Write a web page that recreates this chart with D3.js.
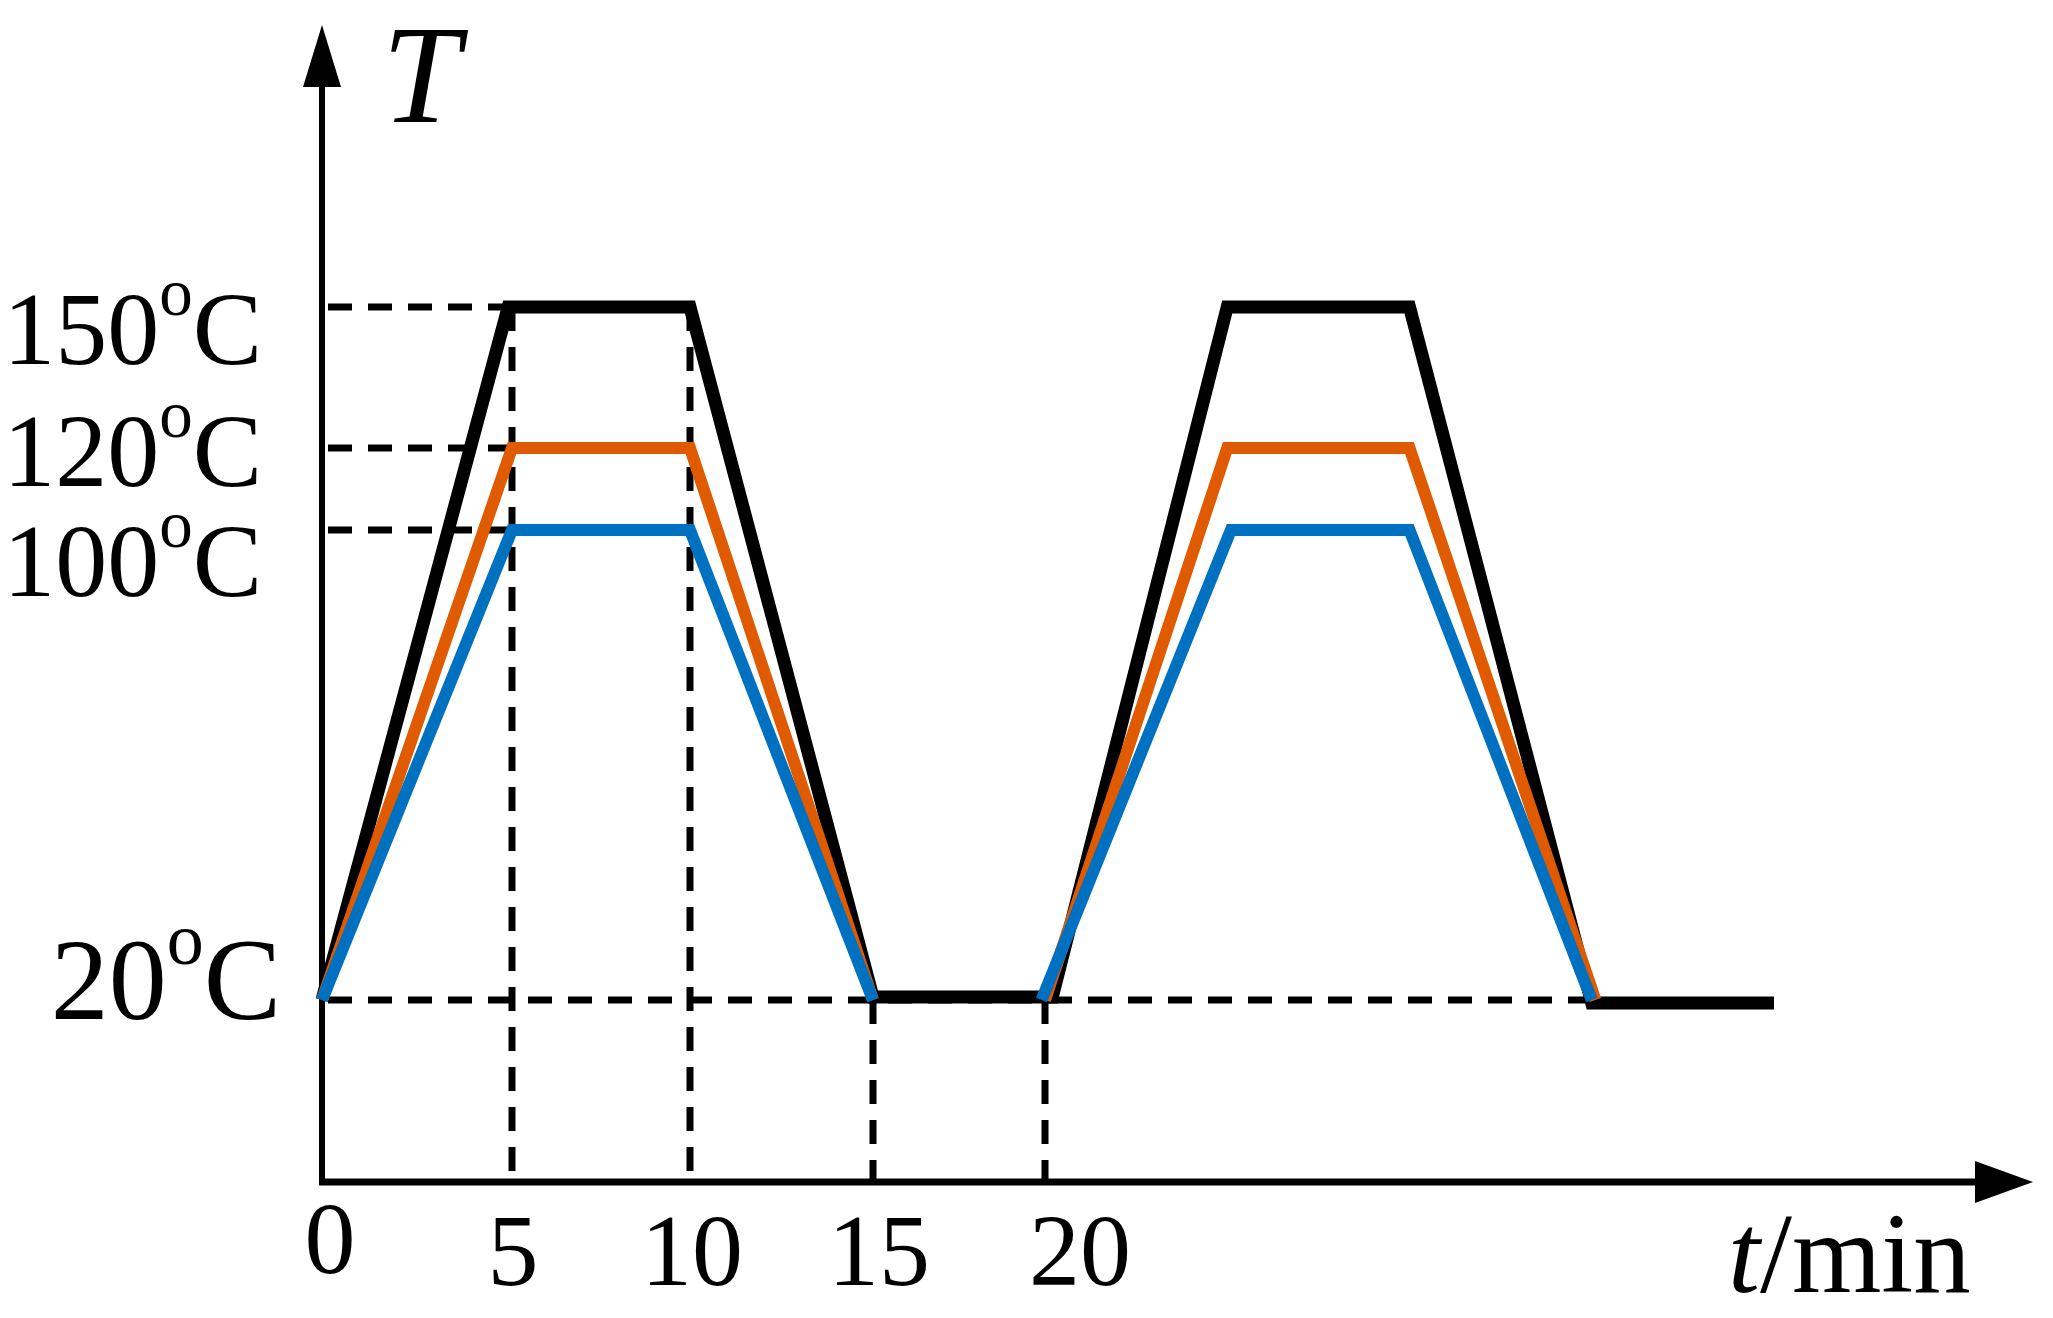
<!DOCTYPE html>
<html>
<head>
<meta charset="utf-8">
<script src="https://cdn.jsdelivr.net/npm/d3@7"></script>
<style>
  html, body { margin: 0; padding: 0; background: #fff; }
  svg { display: block; }
</style>
</head>
<body>
<svg id="chart" width="2053" height="1318"></svg>
<script>
// ---------------- DATA ----------------
const xTicks = [0, 5, 10, 15, 20];
const xTickLabels = ["0", "5", "10", "15", "20"];
const yLevels = [150, 120, 100, 20];
const yLevelLabels = ["150", "120", "100", "20"];
const xTitleItalic = "t";
const xTitleRest = "/min";
const yTitle = "T";

// series: time (min) and temperature (°C); null = gap
const blackTime  = [0, 4.9, 10, 15, 20.2, 25, 30, 35, 40];
const blackTemp  = [20, 150, 150, 20.5, 20.5, 150, 150, 19.5, 19.5];
const orangeTime = [0, 5, 10, 15, null, 20, 25, 30, 35.1];
const orangeTemp = [20, 120, 120, 20, null, 20, 120, 120, 20];
const blueTime   = [0, 5, 10, 15, null, 19.9, 25.1, 30, 35];
const blueTemp   = [20, 100, 100, 20, null, 20, 100, 100, 20];

// reference guide lines
const vGuideTimes = [5, 10, 15, 20];
const vGuideTops  = [150, 150, 20, 20];
const hGuideLevels = [150, 120, 100, 20];
const hGuideEnds   = [5, 5, 5, 35];

// ---------------- LAYOUT / STYLE ----------------
const W = 2053, H = 1318;
const axisX = 322, axisY = 1182;
const FONT = "'Liberation Serif', 'Times New Roman', serif";

// schematic (piecewise) scales as in the original drawing
const x = d3.scaleLinear().domain([0, 5, 10, 15, 20, 40]).range([322, 512, 690, 873, 1045, 1774]);
const y = d3.scaleLinear().domain([20, 100, 120, 150]).range([1000, 530, 448, 307]);

const svg = d3.select("#chart");
svg.append("rect").attr("width", W).attr("height", H).attr("fill", "#fff");

const dash = "24,16";
const gGuides = svg.append("g").attr("stroke", "#000").attr("stroke-width", 7).attr("stroke-dasharray", dash).attr("fill", "none");

// horizontal dashed guides
gGuides.selectAll("line.h").data(hGuideLevels).join("line")
  .attr("class", "h")
  .attr("x1", axisX + 6)
  .attr("x2", (d, i) => x(hGuideEnds[i]))
  .attr("y1", d => y(d)).attr("y2", d => y(d));

// vertical dashed guides
gGuides.selectAll("line.v").data(vGuideTimes).join("line")
  .attr("class", "v")
  .attr("x1", d => x(d)).attr("x2", d => x(d))
  .attr("y1", (d, i) => y(vGuideTops[i]))
  .attr("y2", axisY);

// axes with arrows
const gAxes = svg.append("g");
gAxes.append("line").attr("x1", axisX).attr("x2", axisX).attr("y1", axisY + 3).attr("y2", 80)
  .attr("stroke", "#000").attr("stroke-width", 6);
gAxes.append("path").attr("d", `M${axisX},25 L${axisX - 19},87 L${axisX + 19},87 Z`).attr("fill", "#000");
gAxes.append("line").attr("x1", axisX - 3).attr("x2", 1980).attr("y1", axisY).attr("y2", axisY)
  .attr("stroke", "#000").attr("stroke-width", 7);
gAxes.append("path").attr("d", `M2033,${axisY} L1975,${axisY - 21} L1975,${axisY + 21} Z`).attr("fill", "#000");

// series lines
const line = d3.line()
  .defined(d => d[0] != null && d[1] != null)
  .x(d => x(d[0])).y(d => y(d[1]));

const series = [
  { t: blackTime,  v: blackTemp,  color: "#000000", w: 13 },
  { t: orangeTime, v: orangeTemp, color: "#E05A00", w: 12 },
  { t: blueTime,   v: blueTemp,   color: "#0070C0", w: 12 }
];
svg.append("g").selectAll("path").data(series).join("path")
  .attr("d", s => line(s.t.map((t, i) => [t, s.v[i]])))
  .attr("fill", "none")
  .attr("stroke", s => s.color)
  .attr("stroke-width", s => s.w)
  .attr("stroke-linejoin", "miter")
  .attr("stroke-miterlimit", 10)
  .attr("stroke-linecap", "butt");

// y level labels
const yLabStyle = [
  { dy: 57, fs: 104, sup: 67, raise: 49, xEnd: 262 },
  { dy: 38, fs: 104, sup: 67, raise: 49, xEnd: 262 },
  { dy: 66, fs: 104, sup: 67, raise: 49, xEnd: 262 },
  { dy: 19, fs: 116, sup: 74, raise: 55, xEnd: 281 }
];
const yLab = svg.append("g").attr("font-family", FONT).attr("fill", "#000")
  .selectAll("text").data(yLevels).join("text")
  .attr("text-anchor", "end")
  .attr("x", (d, i) => yLabStyle[i].xEnd)
  .attr("y", (d, i) => y(d) + yLabStyle[i].dy)
  .attr("font-size", (d, i) => yLabStyle[i].fs);
yLab.append("tspan").text((d, i) => yLevelLabels[i]);
yLab.append("tspan").attr("font-size", (d, i) => yLabStyle[i].sup).attr("dy", (d, i) => -yLabStyle[i].raise).text("o");
yLab.append("tspan").attr("dy", (d, i) => yLabStyle[i].raise).text("C");

// x tick labels
const xLabStyle = [
  { dx: 8, baseline: 1273 },
  { dx: 1, baseline: 1285 },
  { dx: 2, baseline: 1285 },
  { dx: 6, baseline: 1285 },
  { dx: 35, baseline: 1285 }
];
svg.append("g").attr("font-family", FONT).attr("font-size", 102).attr("fill", "#000")
  .selectAll("text").data(xTicks).join("text")
  .attr("text-anchor", "middle")
  .attr("x", (d, i) => x(d) + xLabStyle[i].dx)
  .attr("y", (d, i) => xLabStyle[i].baseline)
  .text((d, i) => xTickLabels[i]);

// axis titles
svg.append("text").attr("font-family", FONT).attr("font-size", 140).attr("font-style", "italic")
  .attr("x", 382).attr("y", 122).text(yTitle);

const xt = svg.append("text").attr("font-family", FONT).attr("font-size", 115)
  .attr("x", 1728).attr("y", 1292);
xt.append("tspan").attr("font-style", "italic").text(xTitleItalic);
xt.append("tspan").text(xTitleRest);
</script>
</body>
</html>
